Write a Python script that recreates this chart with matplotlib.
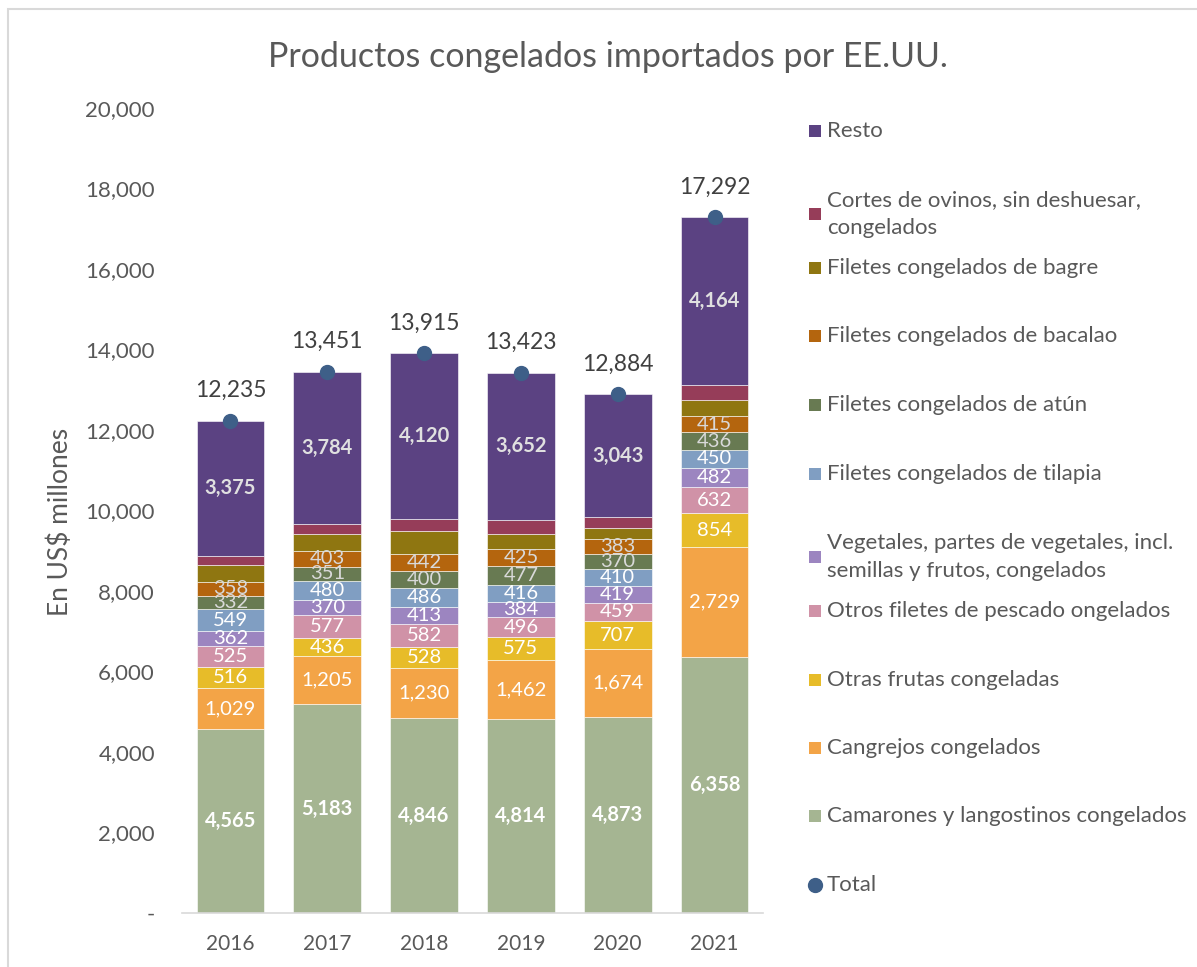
import matplotlib
matplotlib.use("Agg")
import matplotlib.pyplot as plt
from matplotlib.patches import Rectangle
import numpy as np

plt.rcParams['font.family'] = ['Lato', 'DejaVu Sans']

years = ["2016", "2017", "2018", "2019", "2020", "2021"]

series_names = [
    "Camarones y langostinos congelados",
    "Cangrejos congelados",
    "Otras frutas congeladas",
    "Otros filetes de pescado ongelados",
    "Vegetales, partes de vegetales, incl.\nsemillas y frutos, congelados",
    "Filetes congelados de tilapia",
    "Filetes congelados de atún",
    "Filetes congelados de bacalao",
    "Filetes congelados de bagre",
    "Cortes de ovinos, sin deshuesar,\ncongelados",
    "Resto",
]

camarones = [4565, 5183, 4846, 4814, 4873, 6358]
cangrejos = [1029, 1205, 1230, 1462, 1674, 2729]
frutas = [516, 436, 528, 575, 707, 854]
otros_filetes = [525, 577, 582, 496, 459, 632]
vegetales = [362, 370, 413, 384, 419, 482]
tilapia = [549, 480, 486, 416, 410, 450]
atun = [332, 351, 400, 477, 370, 436]
bacalao = [358, 403, 442, 425, 383, 415]
bagre = [420, 410, 560, 370, 273, 392]
ovinos = [204, 252, 308, 352, 273, 380]
resto = [3375, 3784, 4120, 3652, 3043, 4164]
totales = [12235, 13451, 13915, 13423, 12884, 17292]

series = [camarones, cangrejos, frutas, otros_filetes, vegetales, tilapia,
          atun, bacalao, bagre, ovinos, resto]
colors = ["#A5B592", "#F3A447", "#E7BC29", "#D092A7", "#9C85C0", "#809EC2",
          "#687A52", "#B4650E", "#8F7611", "#963D59", "#5B4282"]
show_label = [True, True, True, True, True, True, True, True, False, False, True]
label_color = ["white", "white", "white", "white", "white", "white",
               "#D9D9D9", "#D9D9D9", "white", "white", "#E0E0E0"]
label_bold = [True, False, False, False, False, False, False, False, False, False, True]

W, H = 1197, 967
fig = plt.figure(figsize=(W / 100, H / 100), dpi=100)

# outer chart border
fig.patches.append(Rectangle((8 / W, -0.01), 1.2, (H - 9) / H + 0.01, transform=fig.transFigure,
                             fill=False, edgecolor="#D9D9D9", linewidth=1.5))

ax = fig.add_axes([182 / W, (H - 913) / H, (763 - 182) / W, (913 - 108) / H])
x = np.arange(len(years))
bottom = np.zeros(len(years))
for vals, c, show, lc, bold in zip(series, colors, show_label, label_color, label_bold):
    v = np.array(vals, dtype=float)
    ax.bar(x, v, 0.7, bottom=bottom, color=c, edgecolor="white", linewidth=0.4)
    if show:
        for xi, b, h in zip(x, bottom, v):
            ax.text(xi, b + h / 2, f"{int(h):,}", ha="center", va="center",
                    color=lc, fontsize=14.5, fontweight="bold" if bold else "normal")
    bottom += v

ax.plot(x, totales, "o", color="#3E5F88", markersize=10, zorder=5)
for xi, t in zip(x, totales):
    ax.annotate(f"{t:,}", (xi, t), xytext=(0, 14), textcoords="offset points",
                ha="center", va="bottom", fontsize=16.5, color="#404040")

ax.set_xlim(-0.5, 5.5)
ax.set_ylim(0, 20000)
ax.set_xticks(x)
ax.set_xticklabels(years)
yt = np.arange(0, 20001, 2000)
ax.set_yticks(yt)
ax.set_yticklabels(["-"] + [f"{v:,}" for v in yt[1:]])
ax.tick_params(axis="both", length=0, colors="#595959")
ax.tick_params(axis="y", pad=19.5, labelsize=16)
ax.tick_params(axis="x", pad=15, labelsize=15)
for s in ["top", "right", "left"]:
    ax.spines[s].set_visible(False)
ax.spines["bottom"].set_color("#D9D9D9")
ax.spines["bottom"].set_linewidth(1.2)

fig.text(60 / W, 1 - 522 / H, "En US$ millones", rotation=90, ha="center", va="center",
         fontsize=19, color="#595959")
fig.text(608 / W, 1 - 57 / H, "Productos congelados importados por EE.UU.", ha="center",
         va="center", fontsize=24.5, color="#595959")

# legend
leg_y = [131, 214, 268, 336, 405, 474, 557, 611, 680, 748, 816]
for name, c, yy in zip(series_names[::-1], colors[::-1], leg_y):
    fig.patches.append(Rectangle((809 / W, 1 - (yy + 6) / H), 12 / W, 12 / H,
                                 transform=fig.transFigure, facecolor=c, edgecolor="none"))
    fig.text(827 / W, 1 - yy / H, name, ha="left", va="center", fontsize=16,
             color="#595959", linespacing=1.45)
fig.add_artist(plt.Line2D([815 / W], [1 - 885 / H], marker="o", markersize=10,
                          color="#3E5F88", transform=fig.transFigure))
fig.text(827 / W, 1 - 885 / H, "Total", ha="left", va="center", fontsize=16, color="#595959")

fig.savefig("out.png", dpi=100)
